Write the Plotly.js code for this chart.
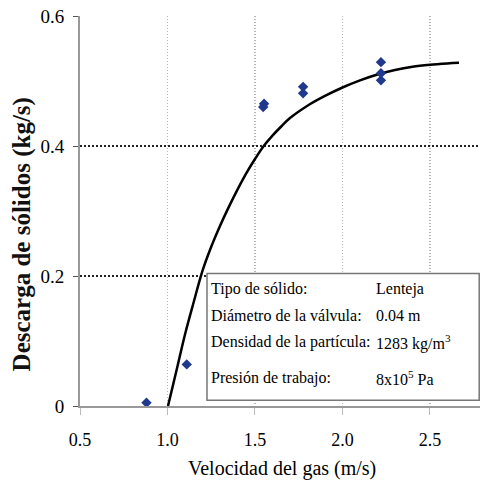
<!DOCTYPE html>
<html><head><meta charset="utf-8">
<script src="https://cdn.plot.ly/plotly-3.0.1.min.js"></script>
<style>body{margin:0;background:#fff}#c{width:480px;height:483px}</style>
</head><body><div id="c"></div>
<script>
// measured data points
const ptX = [0.88, 1.11, 1.547, 1.552, 1.775, 1.775, 2.22, 2.22, 2.22];
const ptY = [0.005, 0.064, 0.460, 0.465, 0.481, 0.491, 0.501, 0.512, 0.529];
// fitted curve
const fitX = [1.003, 1.05, 1.1, 1.15, 1.2, 1.25, 1.3, 1.35, 1.4, 1.45, 1.5, 1.55, 1.6, 1.65, 1.7, 1.8, 1.9, 2.0, 2.1, 2.2, 2.3, 2.4, 2.5, 2.6, 2.666];
const fitY = [0.0, 0.053, 0.11, 0.16, 0.208, 0.245, 0.277, 0.306, 0.333, 0.358, 0.38, 0.4, 0.416, 0.43, 0.443, 0.462, 0.477, 0.49, 0.501, 0.51, 0.517, 0.522, 0.525, 0.527, 0.528];
const xTicks = [0.5, 1.0, 1.5, 2.0, 2.5];
const xTickText = ['0.5', '1.0', '1.5', '2.0', '2.5'];
const yTicks = [0, 0.2, 0.4, 0.6];
const yTickText = ['0', '0.2', '0.4', '0.6'];
const infoLabels = ['Tipo de sólido:', 'Diámetro de la válvula:', 'Densidad de la partícula:', 'Presión de trabajo:'];
const infoValues = ['Lenteja', '0.04 m', '1283 kg/m<sup>3</sup>', '8x10<sup>5</sup> Pa'];
const xTitle = 'Velocidad del gas (m/s)';
const yTitle = 'Descarga de sólidos (kg/s)';

const serif = '"Liberation Serif", "Times New Roman", Times, serif';
const traces = [
  {x: fitX, y: fitY, mode: 'lines', line: {color: '#000', width: 2.5, shape: 'spline', smoothing: 1}, hoverinfo: 'skip'},
  {x: ptX, y: ptY, mode: 'markers', marker: {symbol: 'diamond', size: 8, color: '#1f3a8c'}}
];
const rowY = [0.299, 0.232, 0.163, 0.072];
const ann = [];
infoLabels.forEach((t, i) => {
  ann.push({xref: 'paper', yref: 'paper', x: 0.322, y: rowY[i], text: t, showarrow: false, xanchor: 'left', yanchor: 'middle', font: {family: serif, size: 16, color: '#000'}});
  ann.push({xref: 'paper', yref: 'paper', x: 0.735, y: rowY[i], text: infoValues[i], showarrow: false, xanchor: 'left', yanchor: 'middle', font: {family: serif, size: 16, color: '#000'}});
});
ann.push({xref: 'paper', yref: 'paper', x: 0.506, y: -0.16, text: xTitle, showarrow: false, xanchor: 'center', yanchor: 'middle', font: {family: serif, size: 20, color: '#000'}});
ann.push({xref: 'paper', yref: 'paper', x: -0.145, y: 0.44, text: '<b>' + yTitle + '</b>', textangle: -90, showarrow: false, xanchor: 'center', yanchor: 'middle', font: {family: serif, size: 25, color: '#111'}});
const layout = {
  width: 480, height: 483,
  margin: {l: 80, r: 0, t: 16, b: 77},
  paper_bgcolor: '#fff', plot_bgcolor: '#fff',
  showlegend: false,
  font: {family: serif, color: '#000'},
  xaxis: {
    range: [0.5, 2.786], tickvals: xTicks, ticktext: xTickText,
    showgrid: true, gridcolor: '#b5b5b5', griddash: '1px,2px', gridwidth: 1.2,
    showline: true, linecolor: '#999', linewidth: 2,
    ticks: 'outside', ticklen: 7, tickcolor: '#bbb', ticklabelstandoff: 9,
    zeroline: false, tickfont: {family: serif, size: 18},
  },
  yaxis: {
    range: [0, 0.6], tickvals: yTicks, ticktext: yTickText,
    showgrid: true, gridcolor: '#222', griddash: '2px,2px', gridwidth: 1.3,
    showline: true, linecolor: '#999', linewidth: 2,
    ticks: 'outside', ticklen: 5, tickcolor: '#555', ticklabelstandoff: 5,
    zeroline: false, tickfont: {family: serif, size: 19},
  },
  shapes: [{type: 'rect', xref: 'paper', yref: 'paper', x0: 0.3175, x1: 0.998, y0: 0.0146, y1: 0.340, line: {color: '#777', width: 1.5}, fillcolor: '#fff', layer: 'above'}],
  annotations: ann
};
Plotly.newPlot('c', traces, layout, {staticPlot: true});
</script></body></html>
